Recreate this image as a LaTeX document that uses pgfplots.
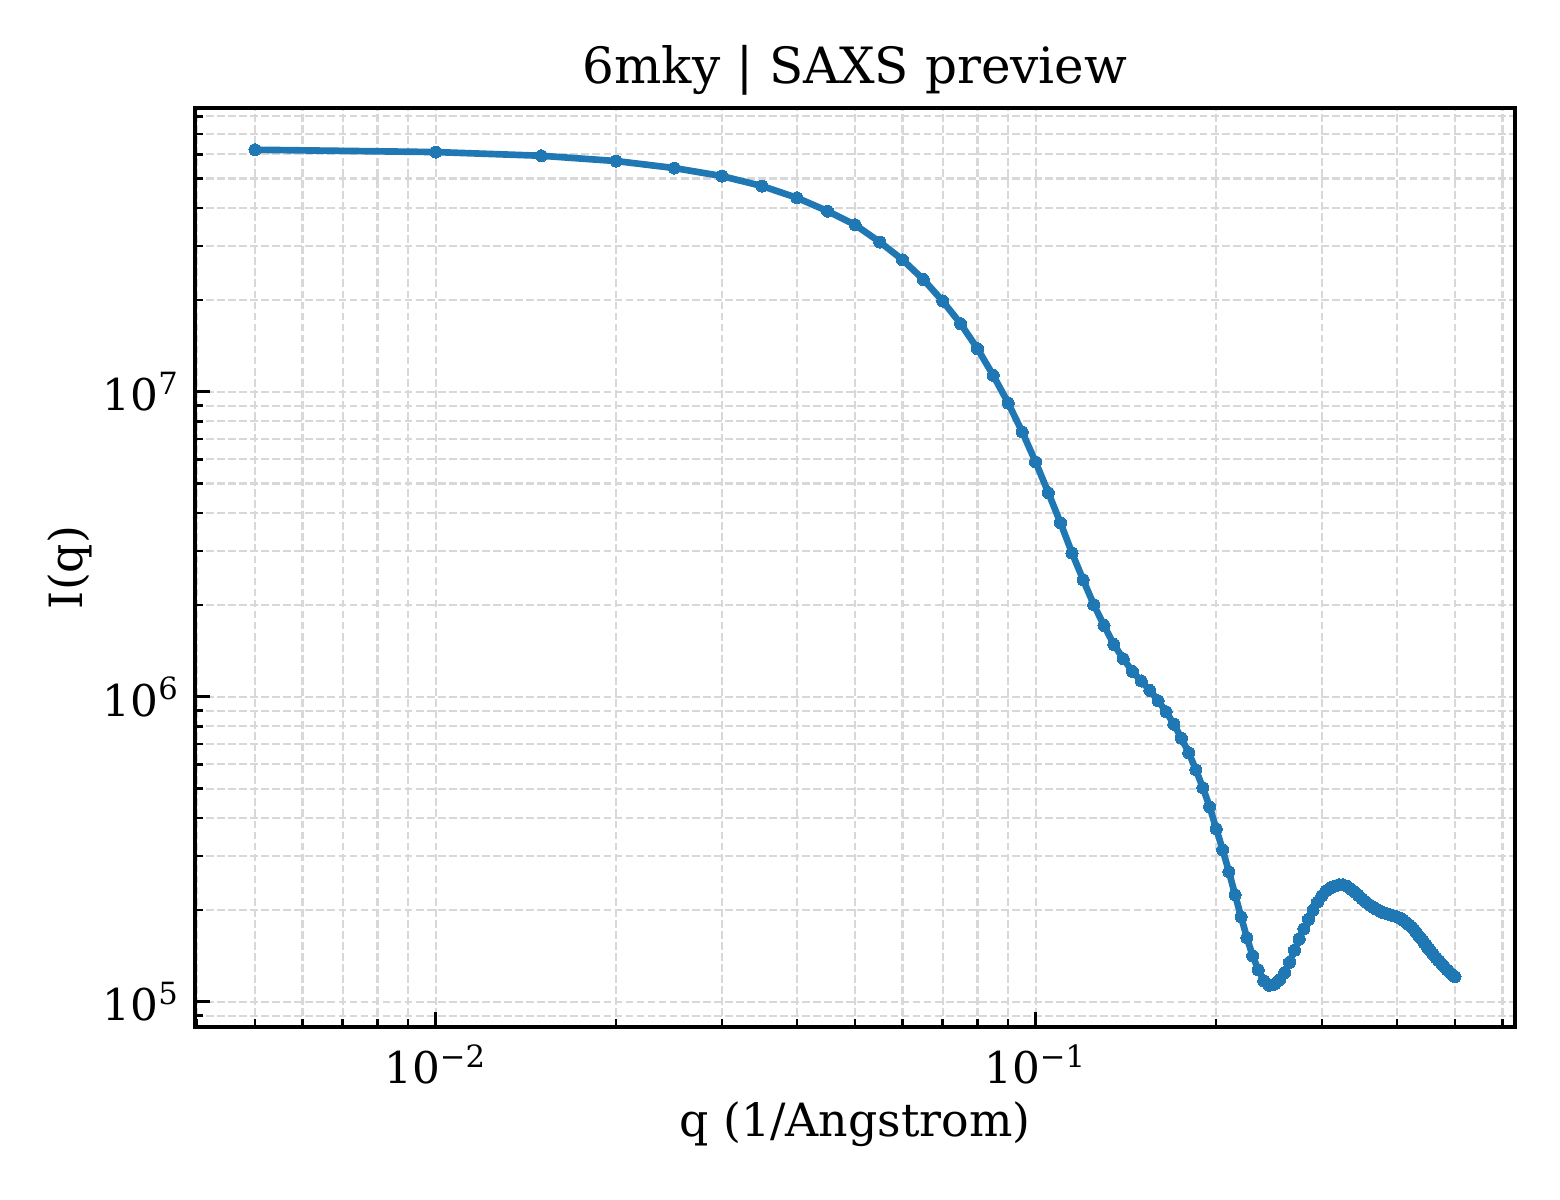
\documentclass[border=0pt]{standalone}
\usepackage{fontspec}
\setmainfont{DejaVu Serif}
\usepackage{pgfplots}
\usepackage{pgfplotstable}
\pgfplotsset{compat=1.18}
\definecolor{mplblue}{HTML}{1F77B4}
\definecolor{gridgray}{RGB}{216,216,216}
\pgfplotstableread{
q I
0.005 6.213e7
0.010 6.106e7
0.015 5.938e7
0.020 5.705e7
0.025 5.411e7
0.030 5.094e7
0.035 4.724e7
0.040 4.324e7
0.045 3.911e7
0.050 3.527e7
0.055 3.095e7
0.060 2.708e7
0.065 2.334e7
0.070 1.983e7
0.075 1.671e7
0.080 1.384e7
0.085 1.131e7
0.090 9.183e6
0.095 7.379e6
0.100 5.883e6
0.105 4.666e6
0.110 3.719e6
0.115 2.959e6
0.120 2.419e6
0.125 2.003e6
0.130 1.713e6
0.135 1.484e6
0.140 1.332e6
0.145 1.211e6
0.150 1.126e6
0.155 1.049e6
0.160 9.704e5
0.165 8.930e5
0.170 8.125e5
0.175 7.311e5
0.180 6.552e5
0.185 5.763e5
0.190 5.031e5
0.195 4.359e5
0.200 3.692e5
0.205 3.150e5
0.210 2.668e5
0.215 2.243e5
0.220 1.900e5
0.225 1.621e5
0.230 1.415e5
0.235 1.273e5
0.240 1.172e5
0.245 1.133e5
0.250 1.141e5
0.255 1.181e5
0.260 1.245e5
0.265 1.347e5
0.270 1.475e5
0.275 1.603e5
0.280 1.735e5
0.285 1.864e5
0.290 1.995e5
0.295 2.120e5
0.300 2.226e5
0.305 2.312e5
0.310 2.365e5
0.315 2.392e5
0.320 2.419e5
0.325 2.419e5
0.330 2.392e5
0.335 2.347e5
0.340 2.294e5
0.345 2.235e5
0.350 2.176e5
0.355 2.128e5
0.360 2.080e5
0.365 2.041e5
0.370 2.010e5
0.375 1.980e5
0.380 1.958e5
0.385 1.943e5
0.390 1.929e5
0.395 1.914e5
0.400 1.900e5
0.405 1.878e5
0.410 1.850e5
0.415 1.816e5
0.420 1.782e5
0.425 1.742e5
0.430 1.696e5
0.435 1.646e5
0.440 1.603e5
0.445 1.555e5
0.450 1.509e5
0.455 1.470e5
0.460 1.431e5
0.465 1.394e5
0.470 1.363e5
0.475 1.332e5
0.480 1.302e5
0.485 1.273e5
0.490 1.249e5
0.495 1.226e5
0.500 1.208e5
}\saxs
\begin{document}
\begin{tikzpicture}
\path[use as bounding box] (0bp,0bp) rectangle (374.4bp,288bp);
\begin{axis}[
  at={(46.8bp,41.52bp)}, anchor=south west,
  scale only axis, width=316.8bp, height=220.56bp,
  xmode=log, ymode=log,
  xmin=0.0039716, xmax=0.6295,
  ymin=82650, ymax=8.516e7,
  xtick={0.01,0.1},
  xticklabels={10\textsuperscript{−2},10\textsuperscript{−1}},
  ytick={1e5,1e6,1e7},
  yticklabels={10\textsuperscript{5},10\textsuperscript{6},10\textsuperscript{7}},
  minor xtick={0.004,0.005,0.006,0.007,0.008,0.009,0.02,0.03,0.04,0.05,0.06,0.07,0.08,0.09,0.2,0.3,0.4,0.5,0.6},
  minor ytick={9e4,2e5,3e5,4e5,5e5,6e5,7e5,8e5,9e5,2e6,3e6,4e6,5e6,6e6,7e6,8e6,9e6,2e7,3e7,4e7,5e7,6e7,7e7,8e7},
  xtick pos=bottom, ytick pos=left,
  tick align=inside,
  major tick length=3.5bp, minor tick length=2bp,
  major tick style={line width=0.8bp, black},
  minor tick style={line width=0.6bp, black},
  axis line style={line width=1.1bp},
  grid=both,
  major grid style={gridgray, line width=0.5bp, dash pattern=on 1.85bp off 0.8bp},
  minor grid style={gridgray, line width=0.5bp, dash pattern=on 1.85bp off 0.8bp},
  ticklabel style={font=\fontsize{10.5bp}{12bp}\selectfont, inner sep=0pt},
  xticklabel style={anchor=north, yshift=-4bp},
  yticklabel style={anchor=east, xshift=-3.4bp},
  title={6mky | SAXS preview},
  title style={font=\fontsize{12bp}{14bp}\selectfont, at={(axis description cs:0.5,1)}, anchor=base, inner sep=0pt},
  xlabel={q (1/Angstrom)},
  xlabel style={font=\fontsize{11bp}{13bp}\selectfont, at={(axis description cs:0.5,0)}, anchor=base, yshift=-26.2bp, inner sep=0pt},
  ylabel={I(q)},
  ylabel style={font=\fontsize{11bp}{13bp}\selectfont, at={([xshift=-26.9bp]axis description cs:0,0.5)}, anchor=base, inner sep=0pt},
]
\addplot[mplblue, line width=1.6bp, line join=round, mark=*, mark size=1.45bp, mark options={solid, fill=mplblue, draw=mplblue, line width=0pt}] table[x=q,y=I]{\saxs};
\end{axis}
\end{tikzpicture}
\end{document}
